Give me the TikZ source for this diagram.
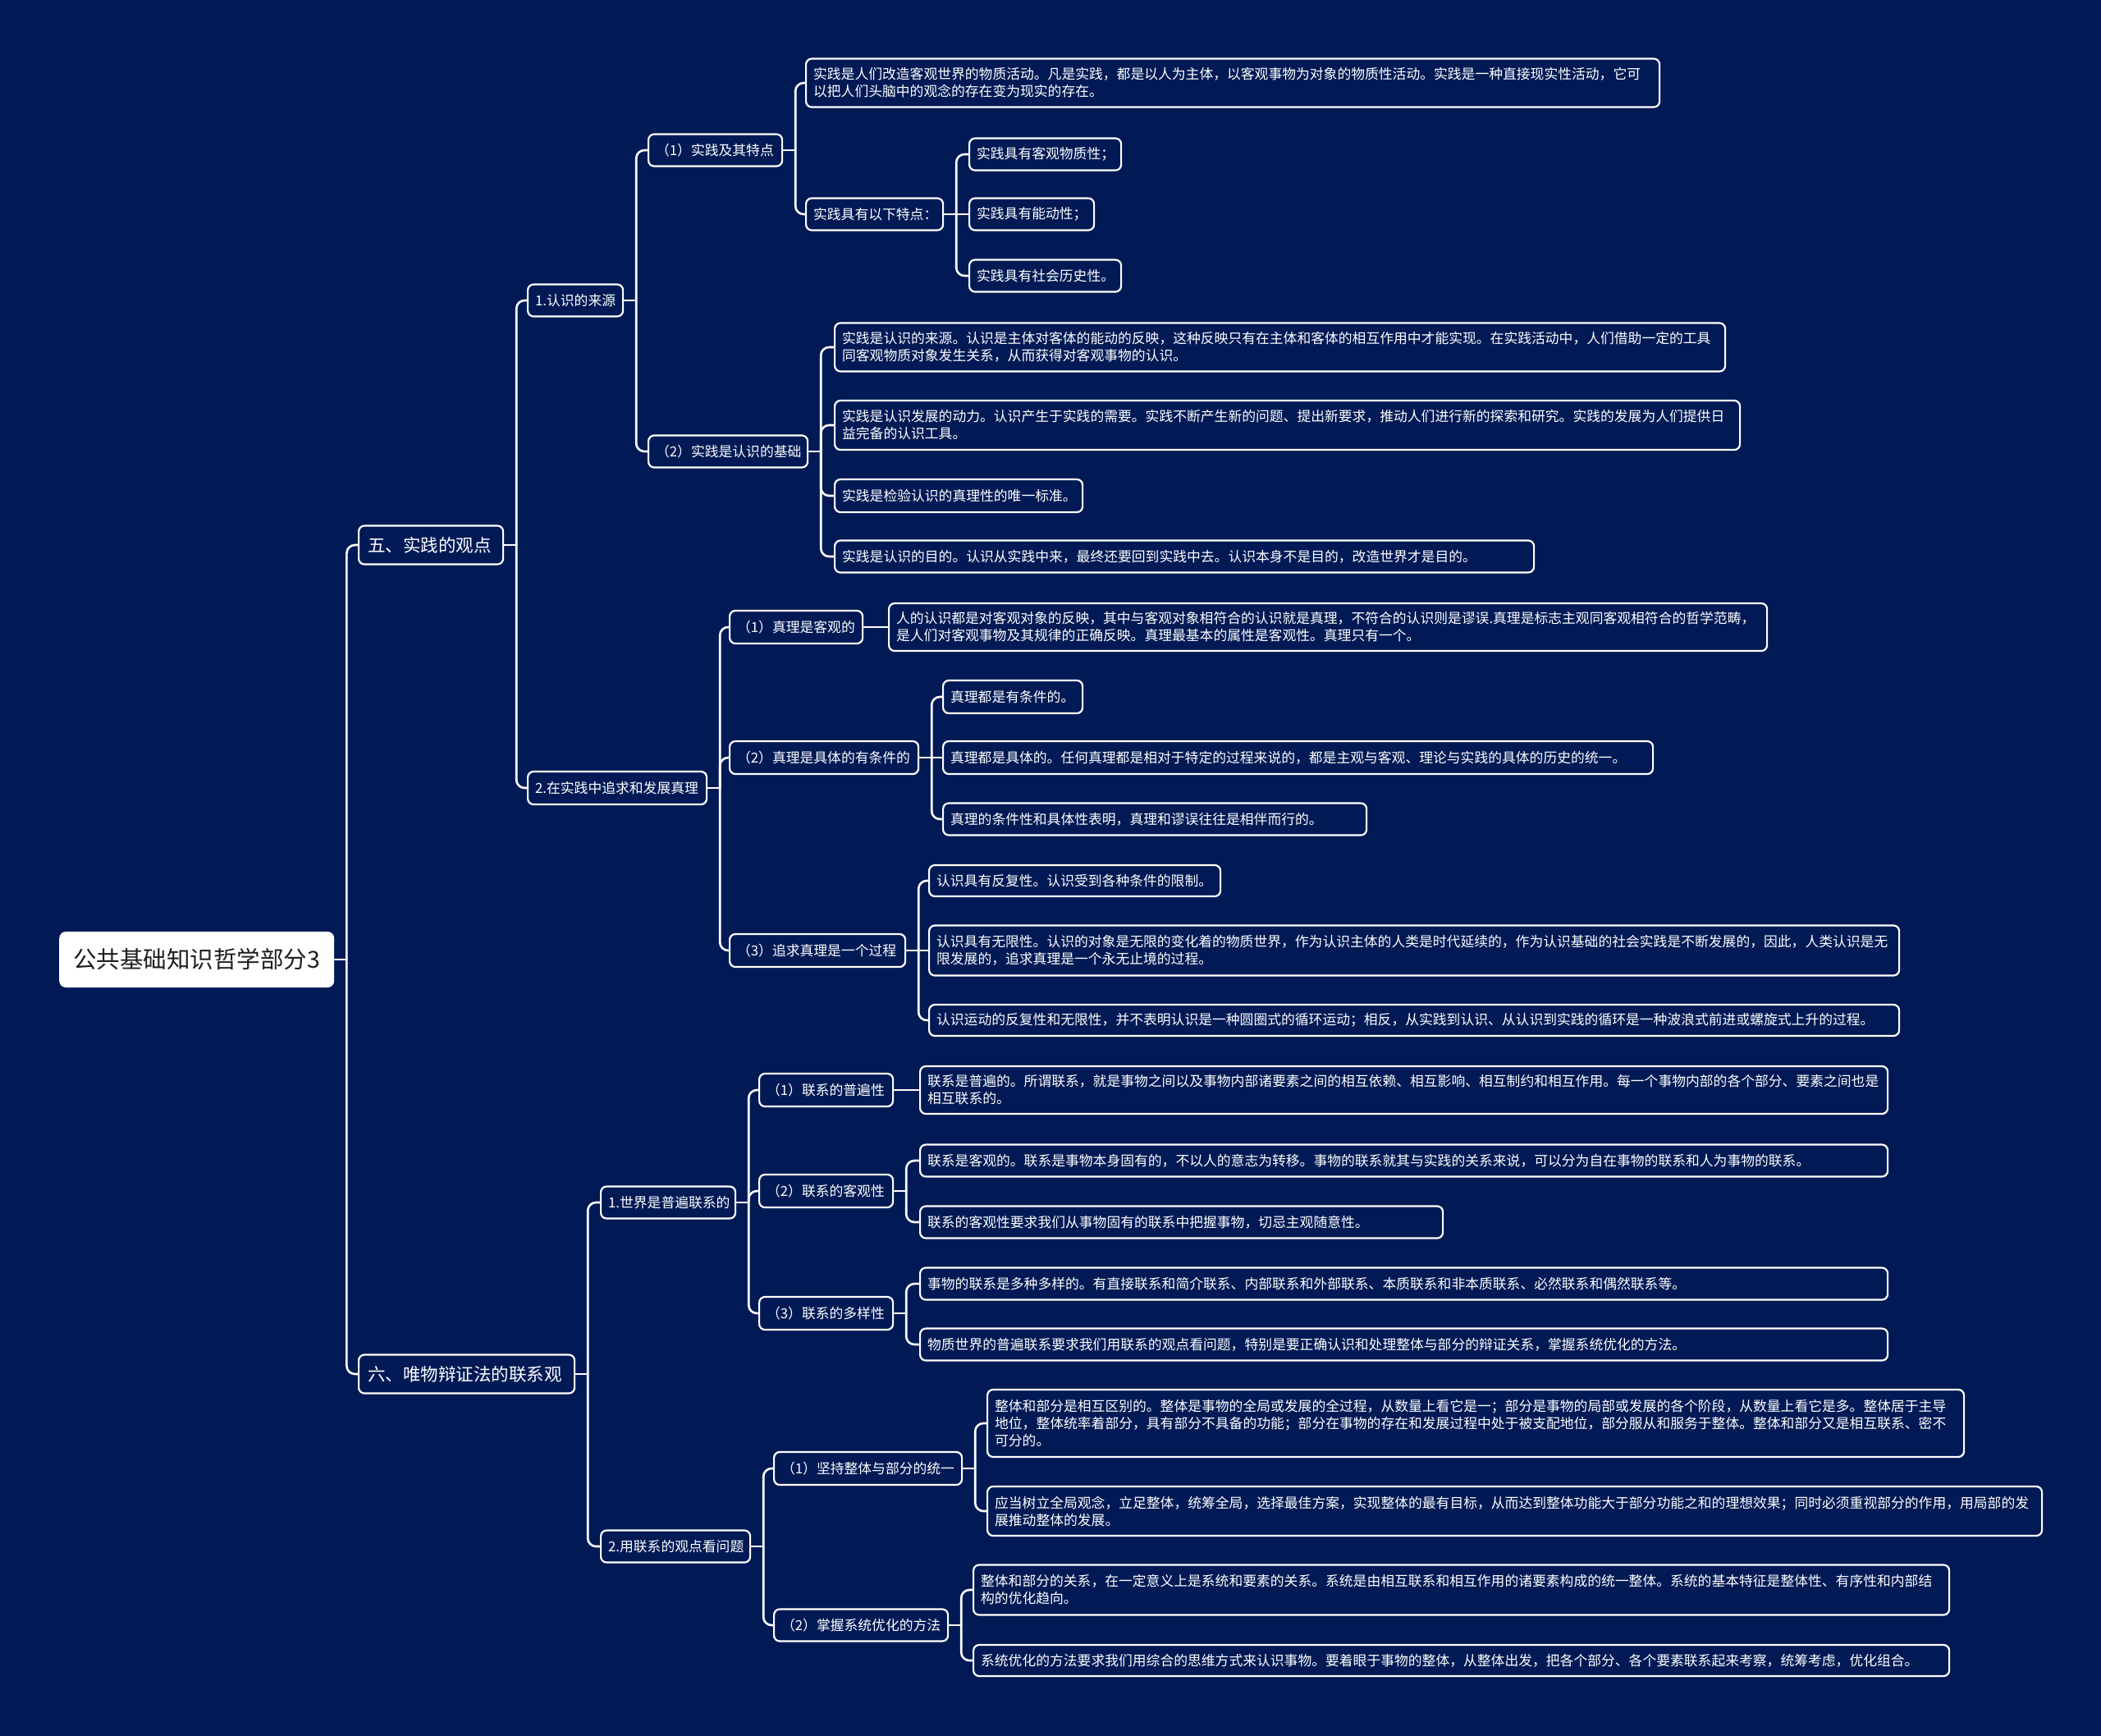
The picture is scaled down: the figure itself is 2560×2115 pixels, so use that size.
\documentclass[tikz,border=0pt]{standalone}
\usepackage{fontspec}
\setmainfont{Noto Sans CJK SC}
\usetikzlibrary{calc}
\definecolor{bg}{HTML}{011A55}
\definecolor{roottext}{HTML}{1E1E1E}
\newcommand\mmjoin[1]{\coordinate (#1j) at ($(#1.east)+(15,0)$);\draw[conn] (#1.east) -- (#1j);}
\newcommand\mmto[2]{\draw[conn] (#1j) |- (#2.west);}
\newcommand\mmstraight[2]{\draw[conn] (#1j) -- (#2.west);}
\begin{document}
\begin{tikzpicture}[x=1pt,y=-1pt,
  box/.style={draw=white, line width=2.2pt, rounded corners=7pt, fill=bg, text=white,
    anchor=west, align=left, inner xsep=9pt, inner ysep=0pt,
    execute at begin node={\setlength{\parindent}{0pt}},
    font=\fontsize{16.8}{21}\selectfont},
  lvl1/.style={box, inner xsep=11pt, font=\fontsize{21.5}{26}\selectfont},
  rootbox/.style={fill=white, draw=none, rounded corners=8pt, text=roottext, anchor=west,
    minimum width=335pt, minimum height=68pt, inner sep=0pt, font=\fontsize{28.5}{32}\selectfont},
  conn/.style={draw=white, line width=2.6pt, rounded corners=10pt, line cap=round}]

\path[use as bounding box, fill=bg] (0,0) rectangle (2560,2115);

% root and level 1
\node[rootbox] (r) at (72,1169) {公共基础知识哲学部分3};
\node[lvl1, text width=154pt, minimum height=47pt] (a) at (436,664) {五、实践的观点};
\node[lvl1, text width=241pt, minimum height=47pt] (b) at (436,1674) {六、唯物辩证法的联系观};

% ---------- branch a ----------
\node[box, text width=98pt, minimum height=39pt] (a1) at (642,366) {1.认识的来源};
\node[box, text width=200pt, minimum height=40pt] (a2) at (642,960) {2.在实践中追求和发展真理};

\node[box, text width=145pt, minimum height=39pt] (a1a) at (789,183) {（1）实践及其特点};
\node[box, text width=176pt, minimum height=39pt] (a1b) at (789,550) {（2）实践是认识的基础};

\node[box, text width=1022pt, minimum height=59pt] (a1a1) at (981,101) {实践是人们改造客观世界的物质活动。凡是实践，都是以人为主体，以客观事物为对象的物质性活动。实践是一种直接现实性活动，它可\\以把人们头脑中的观念的存在变为现实的存在。};
\node[box, text width=149pt, minimum height=39pt] (a1a2) at (981,261) {实践具有以下特点：};
\node[box, text width=167pt, minimum height=39pt] (a1a2x) at (1180,188) {实践具有客观物质性；};
\node[box, text width=134pt, minimum height=39pt] (a1a2y) at (1180,261) {实践具有能动性；};
\node[box, text width=167pt, minimum height=39pt] (a1a2z) at (1180,336) {实践具有社会历史性。};

\node[box, text width=1067pt, minimum height=59pt] (a1b1) at (1016,423) {实践是认识的来源。认识是主体对客体的能动的反映，这种反映只有在主体和客体的相互作用中才能实现。在实践活动中，人们借助一定的工具\\同客观物质对象发生关系，从而获得对客观事物的认识。};
\node[box, text width=1085pt, minimum height=60pt] (a1b2) at (1016,518) {实践是认识发展的动力。认识产生于实践的需要。实践不断产生新的问题、提出新要求，推动人们进行新的探索和研究。实践的发展为人们提供日\\益完备的认识工具。};
\node[box, text width=284pt, minimum height=40pt] (a1b3) at (1016,604) {实践是检验认识的真理性的唯一标准。};
\node[box, text width=834pt, minimum height=39pt] (a1b4) at (1016,678) {实践是认识的目的。认识从实践中来，最终还要回到实践中去。认识本身不是目的，改造世界才是目的。};

\node[box, text width=144pt, minimum height=40pt] (a2a) at (888,764) {（1）真理是客观的};
\node[box, text width=212pt, minimum height=40pt] (a2b) at (888,923) {（2）真理是具体的有条件的};
\node[box, text width=196pt, minimum height=40pt] (a2c) at (888,1158) {（3）追求真理是一个过程};

\node[box, text width=1052pt, minimum height=58pt] (a2aL) at (1082,764) {人的认识都是对客观对象的反映，其中与客观对象相符合的认识就是真理，不符合的认识则是谬误.真理是标志主观同客观相符合的哲学范畴，\\是人们对客观事物及其规律的正确反映。真理最基本的属性是客观性。真理只有一个。};

\node[box, text width=152pt, minimum height=40pt] (a2b1) at (1148,849) {真理都是有条件的。};
\node[box, text width=847pt, minimum height=40pt] (a2b2) at (1148,923) {真理都是具体的。任何真理都是相对于特定的过程来说的，都是主观与客观、理论与实践的具体的历史的统一。};
\node[box, text width=498pt, minimum height=39pt] (a2b3) at (1148,998) {真理的条件性和具体性表明，真理和谬误往往是相伴而行的。};

\node[box, text width=337pt, minimum height=38pt] (a2c1) at (1131,1073) {认识具有反复性。认识受到各种条件的限制。};
\node[box, text width=1164pt, minimum height=61pt] (a2c2) at (1131,1158) {认识具有无限性。认识的对象是无限的变化着的物质世界，作为认识主体的人类是时代延续的，作为认识基础的社会实践是不断发展的，因此，人类认识是无\\限发展的，追求真理是一个永无止境的过程。};
\node[box, text width=1164pt, minimum height=38pt] (a2c3) at (1131,1243) {认识运动的反复性和无限性，并不表明认识是一种圆圈式的循环运动；相反，从实践到认识、从认识到实践的循环是一种波浪式前进或螺旋式上升的过程。};

% ---------- branch b ----------
\node[box, text width=146pt, minimum height=39pt] (b1) at (731,1465) {1.世界是普遍联系的};
\node[box, text width=164pt, minimum height=39pt] (b2) at (731,1884) {2.用联系的观点看问题};

\node[box, text width=145pt, minimum height=40pt] (b1a) at (924,1328) {（1）联系的普遍性};
\node[box, text width=145pt, minimum height=40pt] (b1b) at (924,1451) {（2）联系的客观性};
\node[box, text width=145pt, minimum height=40pt] (b1c) at (924,1600) {（3）联系的多样性};

\node[box, text width=1161pt, minimum height=58pt] (b1aL) at (1120,1328) {联系是普遍的。所谓联系，就是事物之间以及事物内部诸要素之间的相互依赖、相互影响、相互制约和相互作用。每一个事物内部的各个部分、要素之间也是\\相互联系的。};
\node[box, text width=1161pt, minimum height=39pt] (b1b1) at (1120,1414) {联系是客观的。联系是事物本身固有的，不以人的意志为转移。事物的联系就其与实践的关系来说，可以分为自在事物的联系和人为事物的联系。};
\node[box, text width=619pt, minimum height=39pt] (b1b2) at (1120,1489) {联系的客观性要求我们从事物固有的联系中把握事物，切忌主观随意性。};
\node[box, text width=1161pt, minimum height=39pt] (b1c1) at (1120,1564) {事物的联系是多种多样的。有直接联系和简介联系、内部联系和外部联系、本质联系和非本质联系、必然联系和偶然联系等。};
\node[box, text width=1161pt, minimum height=39pt] (b1c2) at (1120,1638) {物质世界的普遍联系要求我们用联系的观点看问题，特别是要正确认识和处理整体与部分的辩证关系，掌握系统优化的方法。};

\node[box, text width=211pt, minimum height=40pt] (b2a) at (942,1789) {（1）坚持整体与部分的统一};
\node[box, text width=194pt, minimum height=39pt] (b2b) at (942,1980) {（2）掌握系统优化的方法};

\node[box, text width=1172pt, minimum height=82pt] (b2a1) at (1202,1734) {整体和部分是相互区别的。整体是事物的全局或发展的全过程，从数量上看它是一；部分是事物的局部或发展的各个阶段，从数量上看它是多。整体居于主导\\地位，整体统率着部分，具有部分不具备的功能；部分在事物的存在和发展过程中处于被支配地位，部分服从和服务于整体。整体和部分又是相互联系、密不\\可分的。};
\node[box, text width=1267pt, minimum height=60pt] (b2a2) at (1202,1841) {应当树立全局观念，立足整体，统筹全局，选择最佳方案，实现整体的最有目标，从而达到整体功能大于部分功能之和的理想效果；同时必须重视部分的作用，用局部的发\\展推动整体的发展。};

\node[box, text width=1171pt, minimum height=61pt] (b2b1) at (1185,1937) {整体和部分的关系，在一定意义上是系统和要素的关系。系统是由相互联系和相互作用的诸要素构成的统一整体。系统的基本特征是整体性、有序性和内部结\\构的优化趋向。};
\node[box, text width=1171pt, minimum height=38pt] (b2b2) at (1185,2023) {系统优化的方法要求我们用综合的思维方式来认识事物。要着眼于事物的整体，从整体出发，把各个部分、各个要素联系起来考察，统筹考虑，优化组合。};

% ---------- connectors ----------
\mmjoin{r} \mmto{r}{a} \mmto{r}{b}
\mmjoin{a} \mmto{a}{a1} \mmto{a}{a2}
\mmjoin{a1} \mmto{a1}{a1a} \mmto{a1}{a1b}
\mmjoin{a1a} \mmto{a1a}{a1a1} \mmto{a1a}{a1a2}
\mmjoin{a1a2} \mmto{a1a2}{a1a2x} \mmstraight{a1a2}{a1a2y} \mmto{a1a2}{a1a2z}
\mmjoin{a1b} \mmto{a1b}{a1b1} \mmto{a1b}{a1b2} \mmto{a1b}{a1b3} \mmto{a1b}{a1b4}
\mmjoin{a2} \mmto{a2}{a2a} \mmto{a2}{a2b} \mmto{a2}{a2c}
\draw[conn] (a2a.east) -- (a2aL.west);
\mmjoin{a2b} \mmto{a2b}{a2b1} \mmstraight{a2b}{a2b2} \mmto{a2b}{a2b3}
\mmjoin{a2c} \mmto{a2c}{a2c1} \mmstraight{a2c}{a2c2} \mmto{a2c}{a2c3}
\mmjoin{b} \mmto{b}{b1} \mmto{b}{b2}
\mmjoin{b1} \mmto{b1}{b1a} \mmto{b1}{b1b} \mmto{b1}{b1c}
\draw[conn] (b1a.east) -- (b1aL.west);
\mmjoin{b1b} \mmto{b1b}{b1b1} \mmto{b1b}{b1b2}
\mmjoin{b1c} \mmto{b1c}{b1c1} \mmto{b1c}{b1c2}
\mmjoin{b2} \mmto{b2}{b2a} \mmto{b2}{b2b}
\mmjoin{b2a} \mmto{b2a}{b2a1} \mmto{b2a}{b2a2}
\mmjoin{b2b} \mmto{b2b}{b2b1} \mmto{b2b}{b2b2}
\end{tikzpicture}
\end{document}
